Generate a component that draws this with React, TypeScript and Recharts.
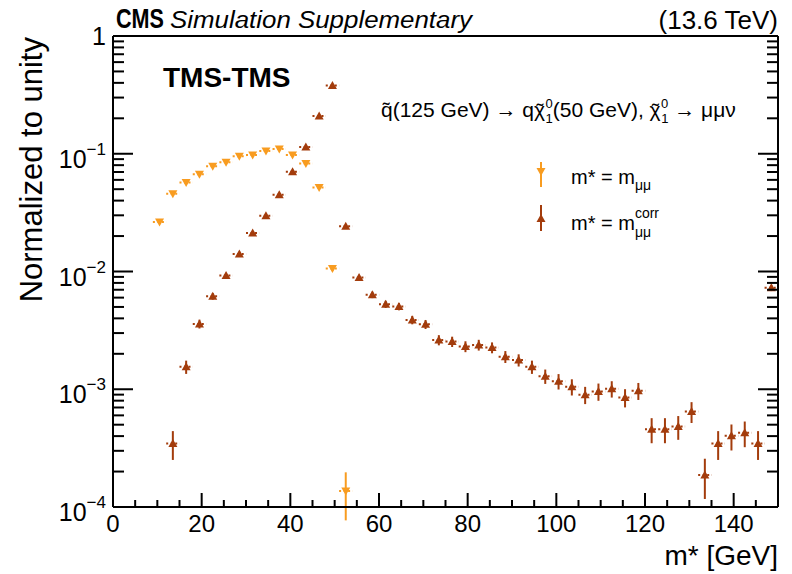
import React from 'react';
import { ScatterChart, Scatter, XAxis, YAxis, ErrorBar } from 'recharts';

// bin centres in GeV (3 GeV bins)
const binCenters = [
    10.5, 13.5, 16.5, 19.5, 22.5, 25.5, 28.5, 31.5, 34.5, 37.5, 40.5, 43.5, 46.5, 49.5, 52.5,
    55.5, 58.5, 61.5, 64.5, 67.5, 70.5, 73.5, 76.5, 79.5, 82.5, 85.5, 88.5, 91.5, 94.5, 97.5,
    100.5, 103.5, 106.5, 109.5, 112.5, 115.5, 118.5, 121.5, 124.5, 127.5, 130.5, 133.5, 136.5,
    139.5, 142.5, 145.5, 148.5,
];
const binHalfWidth = 1.5;

// m* = m_mumu
const mMuMu = [
    0.0263, 0.0458, 0.0569, 0.0669, 0.0783, 0.0847, 0.0952, 0.0977, 0.1056, 0.110, 0.0977, 0.0825, 0.0516, 0.0106, 0.000137,
];
const mMuMuErr = [
    0.00083, 0.00109, 0.00122, 0.00132, 0.00143, 0.00148, 0.00157, 0.00159, 0.00166, 0.00169, 0.00159, 0.00146, 0.00116, 0.00052, 0.00006,
];

// m* = m_mumu^corr
const mCorr = [
    null, 0.000346, 0.00155, 0.00359, 0.00616, 0.00925, 0.0141, 0.0212, 0.0298, 0.0449, 0.0705, 0.114, 0.209, 0.380, 0.0242,
    0.00889, 0.00634, 0.00527, 0.00504, 0.00388, 0.00356, 0.00262, 0.00254, 0.00231, 0.00238, 0.00226, 0.00189, 0.00177, 0.00155, 0.00129,
    0.00117, 0.00105, 0.000898, 0.000958, 0.00101, 0.000851, 0.000971, 0.000458, 0.000458, 0.000482, 0.000647, 0.000187, 0.000346,
    0.000402, 0.000427, 0.000346, 0.00726,
];
const mCorrErr = [
    null, 0.000095, 0.00020, 0.00031, 0.00040, 0.00049, 0.00061, 0.00074, 0.00088, 0.00108, 0.00135, 0.0017, 0.0023, 0.0031, 0.00079,
    0.00048, 0.00040, 0.00037, 0.00036, 0.00032, 0.00031, 0.00026, 0.000255, 0.000245, 0.00025, 0.00024, 0.00022, 0.00021, 0.00020, 0.00018,
    0.000175, 0.000165, 0.00015, 0.00016, 0.00016, 0.00015, 0.00016, 0.00011, 0.00011, 0.00011, 0.00013, 0.00007, 0.000095,
    0.00010, 0.000105, 0.000095, 0.00044,
];

const xTicks = [0, 5, 10, 15, 20, 25, 30, 35, 40, 45, 50, 55, 60, 65, 70, 75, 80, 85, 90, 95, 100, 105, 110, 115, 120, 125, 130, 135, 140, 145, 150];
const xLabels = [0, 20, 40, 60, 80, 100, 120, 140];
const yDecades = [0.0001, 0.001, 0.01, 0.1, 1];
const yTicks = [
    0.0001, 0.0002, 0.0003, 0.0004, 0.0005, 0.0006, 0.0007, 0.0008, 0.0009,
    0.001, 0.002, 0.003, 0.004, 0.005, 0.006, 0.007, 0.008, 0.009,
    0.01, 0.02, 0.03, 0.04, 0.05, 0.06, 0.07, 0.08, 0.09,
    0.1, 0.2, 0.3, 0.4, 0.5, 0.6, 0.7, 0.8, 0.9, 1,
];

const orange = "#f89c20"
const brown = "#a33c0c"
const font = "'Liberation Sans', Arial, Helvetica, sans-serif"

function buildSeries(values: (number | null)[], errors: (number | null)[]) {
    const out: { x: number; y: number; ey: number; ex: number }[] = [];
    values.forEach((v, i) => {
        if (v == null) return;
        out.push({ x: binCenters[i], y: v, ey: errors[i] as number, ex: binHalfWidth });
    });
    return out;
}

const orangeData = buildSeries(mMuMu, mMuMuErr);
const brownData = buildSeries(mCorr, mCorrErr);

const isDecade = (v: number) => yDecades.some(d => Math.abs(d - v) / d < 1e-6);

const LeftTick = ({ x = 0, y = 0, payload }: any) => {
    const v = payload.value;
    const major = isDecade(v);
    const exp = Math.round(Math.log10(v));
    return (
        <g>
            <line x1={x} x2={x + (major ? 20 : 11)} y1={y} y2={y} stroke="#000" strokeWidth={2} />
            {major && exp === 0 && (
                <text x={x - 7} y={y + 9} textAnchor="end" fontSize={25} fontFamily={font} fill="#000">1</text>
            )}
            {major && exp !== 0 && (
                <text x={x - 7} y={y + 14} textAnchor="end" fontSize={25} fontFamily={font} fill="#000">
                    10<tspan fontSize={17} dy={-13}>{'\u2212' + (-exp)}</tspan>
                </text>
            )}
        </g>
    );
}

const RightTick = ({ x = 0, y = 0, payload }: any) => {
    const major = isDecade(payload.value);
    return <line x1={x} x2={x - (major ? 20 : 11)} y1={y} y2={y} stroke="#000" strokeWidth={2} />;
}

const BottomTick = ({ x = 0, y = 0, payload }: any) => {
    const v = payload.value;
    const major = v % 20 === 0;
    return (
        <g>
            <line x1={x} x2={x} y1={y} y2={y - (major ? 14 : 7)} stroke="#000" strokeWidth={2} />
            {xLabels.includes(v) && (
                <text x={x} y={y + 25} textAnchor="middle" fontSize={24} fontFamily={font} fill="#000">{v}</text>
            )}
        </g>
    );
}

const TopTick = ({ x = 0, y = 0, payload }: any) => {
    const major = payload.value % 20 === 0;
    return <line x1={x} x2={x} y1={y} y2={y + (major ? 14 : 7)} stroke="#000" strokeWidth={2} />;
}

const triangle = (color: string, up: boolean) => (props: any) => {
    const { cx, cy } = props;
    if (cx == null || cy == null) return <g />;
    const pts = up
        ? `${cx - 4.5},${cy + 3.5} ${cx + 4.5},${cy + 3.5} ${cx},${cy - 4.5}`
        : `${cx - 4.5},${cy - 3.5} ${cx + 4.5},${cy - 3.5} ${cx},${cy + 4.5}`;
    return <polygon points={pts} fill={color} />;
}

// neutralino symbol with tilde, super- and subscript
const Chi = () => (
    <>
        <tspan>{'\u03c7'}</tspan>
        <tspan dx={-8.5} dy={1}>{'\u02dc'}</tspan>
        <tspan fontSize={13} dx={2} dy={-10}>0</tspan>
        <tspan fontSize={13} dx={-7.2} dy={15}>1</tspan>
    </>
)

export default function App() {
    return (
        <div style={{ position: 'absolute', left: 0, top: 0 }}>
            <ScatterChart width={792} height={574} margin={{ top: 35, right: 13, bottom: 66, left: 112 }}>
                <XAxis
                    xAxisId={0}
                    dataKey="x"
                    type="number"
                    domain={[0, 150]}
                    ticks={xTicks}
                    interval={0}
                    height={1}
                    tickSize={0}
                    tickMargin={0}
                    tick={<BottomTick />}
                    axisLine={{ stroke: '#000', strokeWidth: 2 }}
                    allowDataOverflow
                />
                <XAxis
                    xAxisId="top"
                    orientation="top"
                    type="number"
                    domain={[0, 150]}
                    ticks={xTicks}
                    interval={0}
                    height={1}
                    tickSize={0}
                    tickMargin={0}
                    tick={<TopTick />}
                    axisLine={{ stroke: '#000', strokeWidth: 2 }}
                    allowDataOverflow
                />
                <YAxis
                    yAxisId={0}
                    dataKey="y"
                    type="number"
                    scale="log"
                    domain={[0.0001, 1]}
                    ticks={yTicks}
                    interval={0}
                    width={1}
                    tickSize={0}
                    tickMargin={0}
                    tick={<LeftTick />}
                    axisLine={{ stroke: '#000', strokeWidth: 2 }}
                    allowDataOverflow
                />
                <YAxis
                    yAxisId="right"
                    orientation="right"
                    type="number"
                    scale="log"
                    domain={[0.0001, 1]}
                    ticks={yTicks}
                    interval={0}
                    width={1}
                    tickSize={0}
                    tickMargin={0}
                    tick={<RightTick />}
                    axisLine={{ stroke: '#000', strokeWidth: 2 }}
                    allowDataOverflow
                />
                <Scatter data={orangeData} fill={orange} shape={triangle(orange, false)} isAnimationActive={false}>
                    <ErrorBar dataKey="ex" direction="x" width={0} stroke={orange} strokeWidth={2} strokeDasharray="2 2.5" isAnimationActive={false} />
                    <ErrorBar dataKey="ey" direction="y" width={0} stroke={orange} strokeWidth={2} isAnimationActive={false} />
                </Scatter>
                <Scatter data={brownData} fill={brown} shape={triangle(brown, true)} isAnimationActive={false}>
                    <ErrorBar dataKey="ex" direction="x" width={0} stroke={brown} strokeWidth={2} strokeDasharray="2 2.5" isAnimationActive={false} />
                    <ErrorBar dataKey="ey" direction="y" width={0} stroke={brown} strokeWidth={2} isAnimationActive={false} />
                </Scatter>

                {/* header */}
                <text x={116} y={28} fontFamily={font} fontSize={27} fontWeight="bold" fill="#000" textLength={48} lengthAdjust="spacingAndGlyphs">CMS</text>
                <text x={170} y={28} fontFamily={font} fontSize={23} fontStyle="italic" fill="#000" textLength={302} lengthAdjust="spacingAndGlyphs">Simulation Supplementary</text>
                <text x={778} y={29} fontFamily={font} fontSize={26} textAnchor="end" fill="#000">(13.6 TeV)</text>

                {/* axis titles */}
                <text x={42} y={37} transform="rotate(-90 42 37)" textAnchor="end" fontFamily={font} fontSize={31} fill="#000">Normalized to unity</text>
                <text x={778} y={565} textAnchor="end" fontFamily={font} fontSize={28} fill="#000">m* [GeV]</text>

                {/* annotations */}
                <text x={163} y={87} fontFamily={font} fontSize={28} fontWeight="bold" fill="#000">TMS-TMS</text>
                <text x={381} y={117} fontFamily={font} fontSize={21} fill="#000">
                    <tspan>{'q\u0303(125 GeV) \u2192 q'}</tspan>
                    <Chi />
                    <tspan dy={-6}>{'(50 GeV), '}</tspan>
                    <Chi />
                    <tspan dy={-6}>{' \u2192 \u03bc\u03bc\u03bd'}</tspan>
                </text>

                {/* legend */}
                <line x1={541} x2={541} y1={162} y2={187} stroke={orange} strokeWidth={2} />
                <polygon points="536.5,168 545.5,168 541,176" fill={orange} />
                <text x={571} y={184} fontFamily={font} fontSize={20} fill="#000">
                    m* = m<tspan fontSize={14} dy={6}>{'\u03bc\u03bc'}</tspan>
                </text>
                <line x1={541} x2={541} y1={205} y2={231} stroke={brown} strokeWidth={2} />
                <polygon points="536.5,222 545.5,222 541,214" fill={brown} />
                <text x={571} y={230} fontFamily={font} fontSize={20} fill="#000">
                    m* = m<tspan fontSize={14} dy={-12}>corr</tspan>
                    <tspan fontSize={14} dx={-24} dy={19}>{'\u03bc\u03bc'}</tspan>
                </text>
            </ScatterChart>
        </div>
    );
}
